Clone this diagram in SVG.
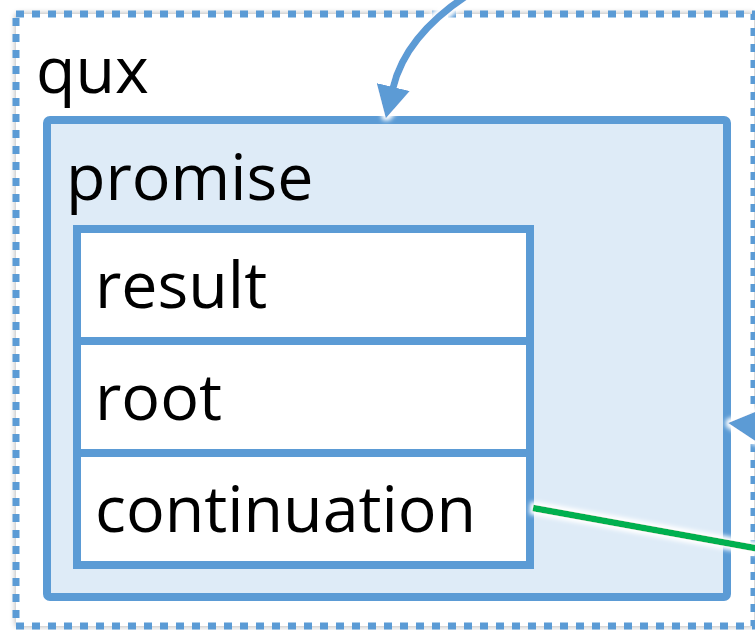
<svg xmlns="http://www.w3.org/2000/svg" width="755" height="630" viewBox="0 0 755 630">
  <style>
    .lbl { font-family: "Open Sans", "Liberation Sans", Arial, sans-serif; font-size: 64.5px; fill: #000; }
    .outer { fill: #fff; stroke: #5B9BD5; stroke-width: 7; stroke-dasharray: 8 8; }
    .box { fill: #DEEBF7; stroke: #5B9BD5; stroke-width: 8; }
    .cell { fill: #fff; stroke: #5B9BD5; stroke-width: 8; }
    .blue { fill: none; stroke: #5B9BD5; stroke-width: 7; }
    .green { fill: none; stroke: #00B050; stroke-width: 6.5; }
  </style>
  <defs>
    <filter id="shadow" x="-5%" y="-5%" width="110%" height="110%">
      <feGaussianBlur stdDeviation="3"/>
    </filter>
    <filter id="glow" filterUnits="userSpaceOnUse" x="0" y="-20" width="800" height="680">
      <feMorphology in="SourceAlpha" operator="dilate" radius="2.5" result="d"/>
      <feGaussianBlur in="d" stdDeviation="2" result="b"/>
      <feFlood flood-color="#fff"/>
      <feComposite in2="b" operator="in" result="g"/>
      <feMerge>
        <feMergeNode in="g"/>
        <feMergeNode in="SourceGraphic"/>
      </feMerge>
    </filter>
    <marker id="head" markerUnits="userSpaceOnUse" viewBox="0 0 32 34" refX="1" refY="17" markerWidth="32" markerHeight="34" orient="auto">
      <path d="M0,0 L32,17 L0,34 Z" fill="#5B9BD5"/>
    </marker>
  </defs>

  <g id="qux">
    <rect x="16" y="14" width="738" height="612" fill="#000" opacity="0.35" filter="url(#shadow)"/>
    <rect class="outer" x="16" y="14" width="738" height="612"/>
    <text class="lbl" x="36" y="93">qux</text>
  </g>

  <g id="promise">
    <rect class="box" x="47" y="120" width="680" height="477" rx="3"/>
    <text class="lbl" x="66" y="200">promise</text>
  </g>

  <g id="result">
    <rect class="cell" x="77" y="229" width="453" height="112"/>
    <text class="lbl" x="95" y="308">result</text>
  </g>
  <g id="root">
    <rect class="cell" x="77" y="341" width="453" height="112"/>
    <text class="lbl" x="95" y="420">root</text>
  </g>
  <g id="continuation">
    <rect class="cell" x="77" y="453" width="453" height="112"/>
    <text class="lbl" x="95" y="532">continuation</text>
  </g>

  <g id="connectors" filter="url(#glow)">
    <path class="blue" d="M466,-4 C430,20 402,50 393,88" marker-end="url(#head)"/>
    <path class="blue" d="M800,430 L759,426" marker-end="url(#head)"/>
    <path class="green" d="M533,508 L760,549"/>
  </g>
</svg>
